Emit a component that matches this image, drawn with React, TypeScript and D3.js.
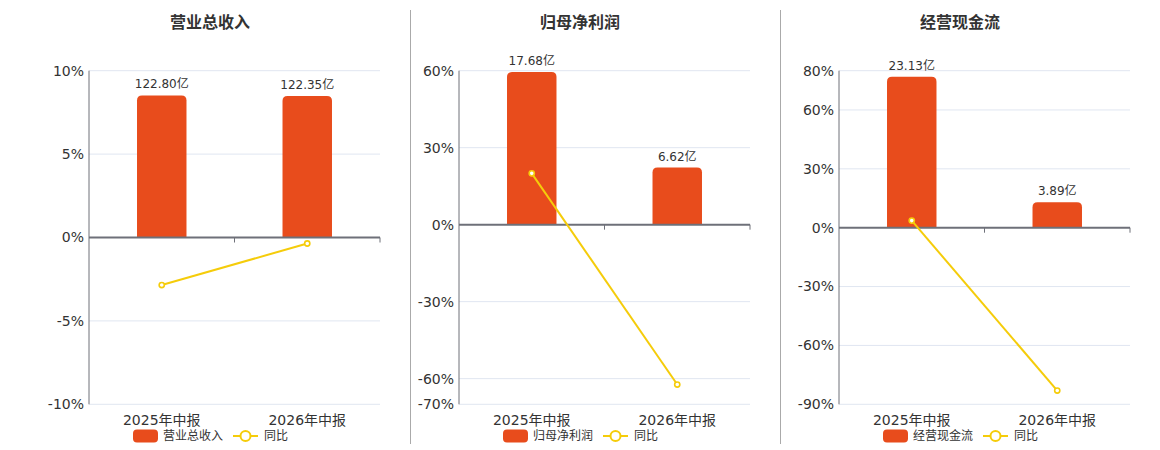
import React from 'react';
import * as d3 from 'd3';

const categories = ['2025年中报', '2026年中报'];
const titles = ['营业总收入', '归母净利润', '经营现金流'];
const barValues = [
  [122.8, 122.35],
  [17.68, 6.62],
  [23.13, 3.89],
];
const yoyValues = [
  [-2.85, -0.36],
  [20.0, -62.3],
  [3.6, -83.0],
];
const yTicks = [
  [10, 5, 0, -5, -10],
  [60, 30, 0, -30, -60, -70],
  [80, 60, 30, 0, -30, -60, -90],
];
const yDomains: [number, number][] = [
  [-10, 10],
  [-70, 60],
  [-90, 80],
];
// hidden value axis for the bars (max of that axis)
const barAxisMax = [144.2, 17.84, 24.05];

const W = 1160;
const H = 450;
const panelCenters = [210, 580, 960];
const plotLefts = [89, 459, 839];
const plotWidth = 291;
const plotTop = 70.7;
const plotBottom = 404.3;
const separators = [410.5, 780.5];

const BAR = '#e84c1c';
const LINE = '#f5cc0a';
const FONT = '"DejaVu Sans", "Noto Sans CJK SC", sans-serif';

const Panel: React.FC<{ i: number }> = ({ i }) => {
  const left = plotLefts[i];
  const x = d3.scaleBand<string>().domain(categories).range([left, left + plotWidth]);
  const y = d3.scaleLinear().domain(yDomains[i]).range([plotBottom, plotTop]);
  const zeroY = y(0);
  const yb = d3.scaleLinear().domain([0, barAxisMax[i]]).range([zeroY, plotTop]);
  const bw = x.bandwidth() * 0.34;
  const cx = (c: string) => (x(c) as number) + x.bandwidth() / 2;

  const line = d3
    .line<number>()
    .x((_, k) => cx(categories[k]))
    .y((d) => y(d));

  const center = panelCenters[i];
  const legendLeft = center - 77;

  return (
    <g>
      <text x={center} y={28} textAnchor="middle" fontSize={16} fontWeight="bold" fill="#333">
        {titles[i]}
      </text>
      {yTicks[i].map((t) => (
        <g key={t}>
          {t !== 0 && (
            <line x1={left} x2={left + plotWidth} y1={y(t)} y2={y(t)} stroke="#e0e6f1" strokeWidth={1} />
          )}
          <text x={left - 5} y={y(t)} dy="0.35em" textAnchor="end" fontSize={14} fill="#333">
            {`${t}%`}
          </text>
        </g>
      ))}
      <line x1={left} x2={left} y1={plotTop} y2={plotBottom} stroke="#6e7079" strokeWidth={1} />
      {categories.map((c, k) => {
        const v = barValues[i][k];
        const top = yb(v);
        const h = zeroY - top;
        const r = 5;
        const x0 = cx(c) - bw / 2;
        const path = `M${x0},${zeroY}V${top + r}Q${x0},${top} ${x0 + r},${top}H${x0 + bw - r}Q${x0 + bw},${top} ${x0 + bw},${top + r}V${zeroY}Z`;
        return (
          <g key={c}>
            {h > 0 && <path d={path} fill={BAR} />}
            <text x={cx(c)} y={top - 7} textAnchor="middle" fontSize={12} fill="#333">
              {`${v.toFixed(2)}亿`}
            </text>
            <text x={cx(c)} y={plotBottom + 16} dy="0.35em" textAnchor="middle" fontSize={14} fill="#333">
              {c}
            </text>
          </g>
        );
      })}
      <line x1={left} x2={left + plotWidth} y1={zeroY} y2={zeroY} stroke="#6e7079" strokeWidth={2} />
      {[1, 2].map((k) => (
        <line
          key={k}
          x1={left + (plotWidth / 2) * k}
          x2={left + (plotWidth / 2) * k}
          y1={zeroY}
          y2={zeroY + 5}
          stroke="#6e7079"
          strokeWidth={1}
        />
      ))}
      <path d={line(yoyValues[i]) ?? ''} fill="none" stroke={LINE} strokeWidth={2} />
      {yoyValues[i].map((v, k) => (
        <circle key={k} cx={cx(categories[k])} cy={y(v)} r={2.6} fill="#fff" stroke={LINE} strokeWidth={1.6} />
      ))}
      <g transform={`translate(${legendLeft},436)`}>
        <rect x={0} y={-6.5} width={25} height={13} rx={4} fill={BAR} />
        <text x={30} y={0} dy="0.35em" fontSize={12} fill="#333">
          {titles[i]}
        </text>
        <line x1={100} x2={125} y1={0} y2={0} stroke={LINE} strokeWidth={2} />
        <circle cx={112.5} cy={0} r={5} fill="#fff" stroke={LINE} strokeWidth={2} />
        <text x={131} y={0} dy="0.35em" fontSize={12} fill="#333">
          同比
        </text>
      </g>
    </g>
  );
};

export default function App() {
  return (
    <div style={{ position: 'absolute', left: 0, top: 0 }}>
      <svg width={W} height={H} style={{ display: 'block', fontFamily: FONT }}>
        <rect width={W} height={H} fill="#fff" />
        {separators.map((sx) => (
          <line key={sx} x1={sx} x2={sx} y1={10} y2={444} stroke="#aaa" strokeWidth={1} />
        ))}
        {titles.map((_, i) => (
          <Panel key={i} i={i} />
        ))}
      </svg>
    </div>
  );
}
